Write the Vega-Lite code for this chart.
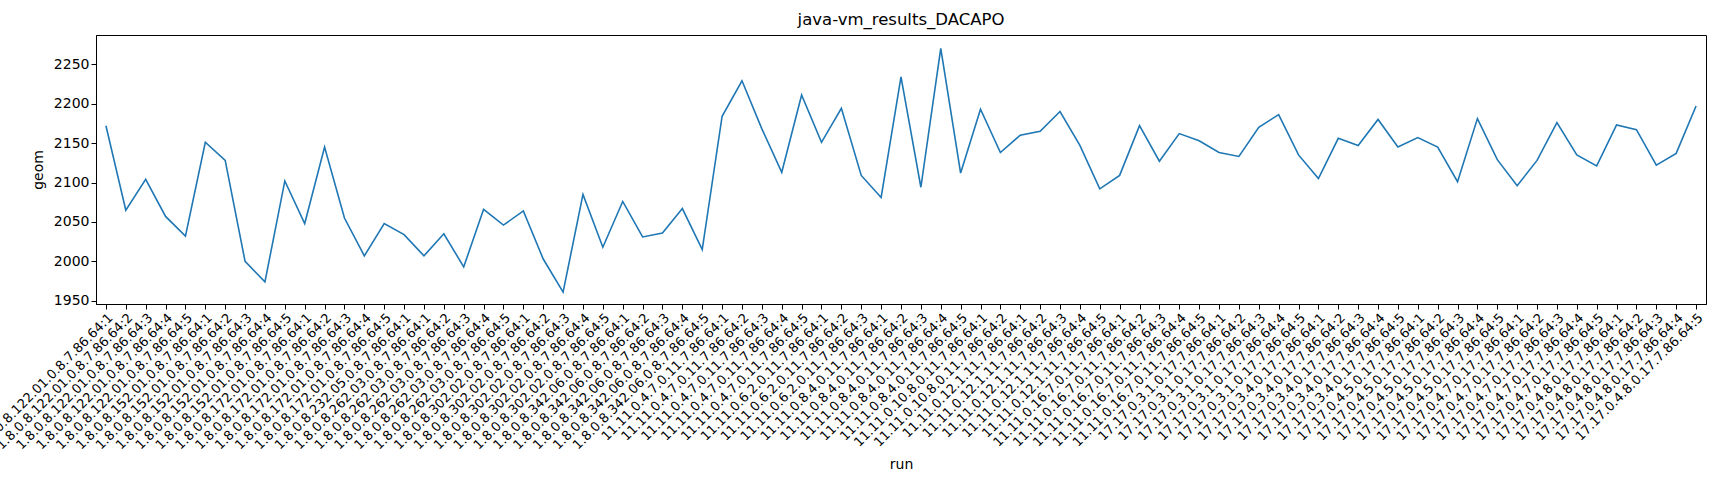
{
"$schema":"https://vega.github.io/schema/vega-lite/v6.json",
"autosize":{"type":"none"},
"width":1610,"height":269,
"padding":{"left":96,"top":35,"right":14,"bottom":196},
"background":"white",
"config":{"font":"DejaVu Sans","view":{"stroke":"black","strokeWidth":1}},
"title":{"text":"java-vm_results_DACAPO","fontSize":16.5,"fontWeight":"normal","font":"DejaVu Sans","color":"black","offset":7},
"data":{"values":[
{"run":"1.8.0.8.122.01.0.8.7.86.64:1","geom":2172},
{"run":"1.8.0.8.122.01.0.8.7.86.64:2","geom":2065},
{"run":"1.8.0.8.122.01.0.8.7.86.64:3","geom":2104},
{"run":"1.8.0.8.122.01.0.8.7.86.64:4","geom":2057},
{"run":"1.8.0.8.122.01.0.8.7.86.64:5","geom":2032},
{"run":"1.8.0.8.152.01.0.8.7.86.64:1","geom":2151},
{"run":"1.8.0.8.152.01.0.8.7.86.64:2","geom":2128},
{"run":"1.8.0.8.152.01.0.8.7.86.64:3","geom":2000},
{"run":"1.8.0.8.152.01.0.8.7.86.64:4","geom":1974},
{"run":"1.8.0.8.152.01.0.8.7.86.64:5","geom":2102},
{"run":"1.8.0.8.172.01.0.8.7.86.64:1","geom":2048},
{"run":"1.8.0.8.172.01.0.8.7.86.64:2","geom":2145},
{"run":"1.8.0.8.172.01.0.8.7.86.64:3","geom":2055},
{"run":"1.8.0.8.172.01.0.8.7.86.64:4","geom":2007},
{"run":"1.8.0.8.172.01.0.8.7.86.64:5","geom":2048},
{"run":"1.8.0.8.232.05.0.8.7.86.64:1","geom":2034},
{"run":"1.8.0.8.262.03.0.8.7.86.64:1","geom":2007},
{"run":"1.8.0.8.262.03.0.8.7.86.64:2","geom":2035},
{"run":"1.8.0.8.262.03.0.8.7.86.64:3","geom":1993},
{"run":"1.8.0.8.262.03.0.8.7.86.64:4","geom":2066},
{"run":"1.8.0.8.262.03.0.8.7.86.64:5","geom":2046},
{"run":"1.8.0.8.302.02.0.8.7.86.64:1","geom":2064},
{"run":"1.8.0.8.302.02.0.8.7.86.64:2","geom":2003},
{"run":"1.8.0.8.302.02.0.8.7.86.64:3","geom":1961},
{"run":"1.8.0.8.302.02.0.8.7.86.64:4","geom":2085},
{"run":"1.8.0.8.302.02.0.8.7.86.64:5","geom":2018},
{"run":"1.8.0.8.342.06.0.8.7.86.64:1","geom":2076},
{"run":"1.8.0.8.342.06.0.8.7.86.64:2","geom":2031},
{"run":"1.8.0.8.342.06.0.8.7.86.64:3","geom":2036},
{"run":"1.8.0.8.342.06.0.8.7.86.64:4","geom":2067},
{"run":"1.8.0.8.342.06.0.8.7.86.64:5","geom":2015},
{"run":"11.11.0.4.7.0.11.7.86.64:1","geom":2184},
{"run":"11.11.0.4.7.0.11.7.86.64:2","geom":2229},
{"run":"11.11.0.4.7.0.11.7.86.64:3","geom":2168},
{"run":"11.11.0.4.7.0.11.7.86.64:4","geom":2113},
{"run":"11.11.0.4.7.0.11.7.86.64:5","geom":2211},
{"run":"11.11.0.6.2.0.11.7.86.64:1","geom":2151},
{"run":"11.11.0.6.2.0.11.7.86.64:2","geom":2194},
{"run":"11.11.0.6.2.0.11.7.86.64:3","geom":2109},
{"run":"11.11.0.8.4.0.11.7.86.64:1","geom":2081},
{"run":"11.11.0.8.4.0.11.7.86.64:2","geom":2234},
{"run":"11.11.0.8.4.0.11.7.86.64:3","geom":2094},
{"run":"11.11.0.8.4.0.11.7.86.64:4","geom":2270},
{"run":"11.11.0.8.4.0.11.7.86.64:5","geom":2112},
{"run":"11.11.0.10.8.0.11.7.86.64:1","geom":2193},
{"run":"11.11.0.10.8.0.11.7.86.64:2","geom":2138},
{"run":"11.11.0.12.1.11.7.86.64:1","geom":2160},
{"run":"11.11.0.12.1.11.7.86.64:2","geom":2165},
{"run":"11.11.0.12.1.11.7.86.64:3","geom":2190},
{"run":"11.11.0.12.1.11.7.86.64:4","geom":2147},
{"run":"11.11.0.12.1.11.7.86.64:5","geom":2092},
{"run":"11.11.0.16.7.0.11.7.86.64:1","geom":2109},
{"run":"11.11.0.16.7.0.11.7.86.64:2","geom":2172},
{"run":"11.11.0.16.7.0.11.7.86.64:3","geom":2127},
{"run":"11.11.0.16.7.0.11.7.86.64:4","geom":2162},
{"run":"11.11.0.16.7.0.11.7.86.64:5","geom":2153},
{"run":"17.17.0.3.1.0.17.7.86.64:1","geom":2138},
{"run":"17.17.0.3.1.0.17.7.86.64:2","geom":2133},
{"run":"17.17.0.3.1.0.17.7.86.64:3","geom":2170},
{"run":"17.17.0.3.1.0.17.7.86.64:4","geom":2186},
{"run":"17.17.0.3.1.0.17.7.86.64:5","geom":2135},
{"run":"17.17.0.3.4.0.17.7.86.64:1","geom":2105},
{"run":"17.17.0.3.4.0.17.7.86.64:2","geom":2156},
{"run":"17.17.0.3.4.0.17.7.86.64:3","geom":2147},
{"run":"17.17.0.3.4.0.17.7.86.64:4","geom":2180},
{"run":"17.17.0.3.4.0.17.7.86.64:5","geom":2145},
{"run":"17.17.0.4.5.0.17.7.86.64:1","geom":2157},
{"run":"17.17.0.4.5.0.17.7.86.64:2","geom":2145},
{"run":"17.17.0.4.5.0.17.7.86.64:3","geom":2101},
{"run":"17.17.0.4.5.0.17.7.86.64:4","geom":2181},
{"run":"17.17.0.4.5.0.17.7.86.64:5","geom":2129},
{"run":"17.17.0.4.7.0.17.7.86.64:1","geom":2096},
{"run":"17.17.0.4.7.0.17.7.86.64:2","geom":2128},
{"run":"17.17.0.4.7.0.17.7.86.64:3","geom":2176},
{"run":"17.17.0.4.7.0.17.7.86.64:4","geom":2135},
{"run":"17.17.0.4.7.0.17.7.86.64:5","geom":2121},
{"run":"17.17.0.4.8.0.17.7.86.64:1","geom":2173},
{"run":"17.17.0.4.8.0.17.7.86.64:2","geom":2167},
{"run":"17.17.0.4.8.0.17.7.86.64:3","geom":2122},
{"run":"17.17.0.4.8.0.17.7.86.64:4","geom":2137},
{"run":"17.17.0.4.8.0.17.7.86.64:5","geom":2197}
]},
"mark":{"type":"line","color":"#1f77b4","strokeWidth":1.6},
"encoding":{
"x":{"field":"run","type":"ordinal","sort":null,"scale":{"type":"point","paddingOuter":4},
"axis":{"labelAngle":-45,"labelAlign":"right","labelBaseline":"top","labelFontSize":13,"labelColor":"black","labelOverlap":false,"labelPadding":2,"tickColor":"black","tickSize":5,"domainColor":"black","title":"run","titleFontSize":14,"titleFontWeight":"normal","titleColor":"black","titlePadding":6,"labelLimit":0}},
"y":{"field":"geom","type":"quantitative","scale":{"domain":[1946,2287],"nice":false,"zero":false},
"axis":{"values":[1950,2000,2050,2100,2150,2200,2250],"format":"d","grid":false,"labelFontSize":14,"labelColor":"black","tickColor":"black","tickSize":5,"domainColor":"black","title":"geom","titleFontSize":14,"titleFontWeight":"normal","titleColor":"black","titlePadding":8}}
}
}
